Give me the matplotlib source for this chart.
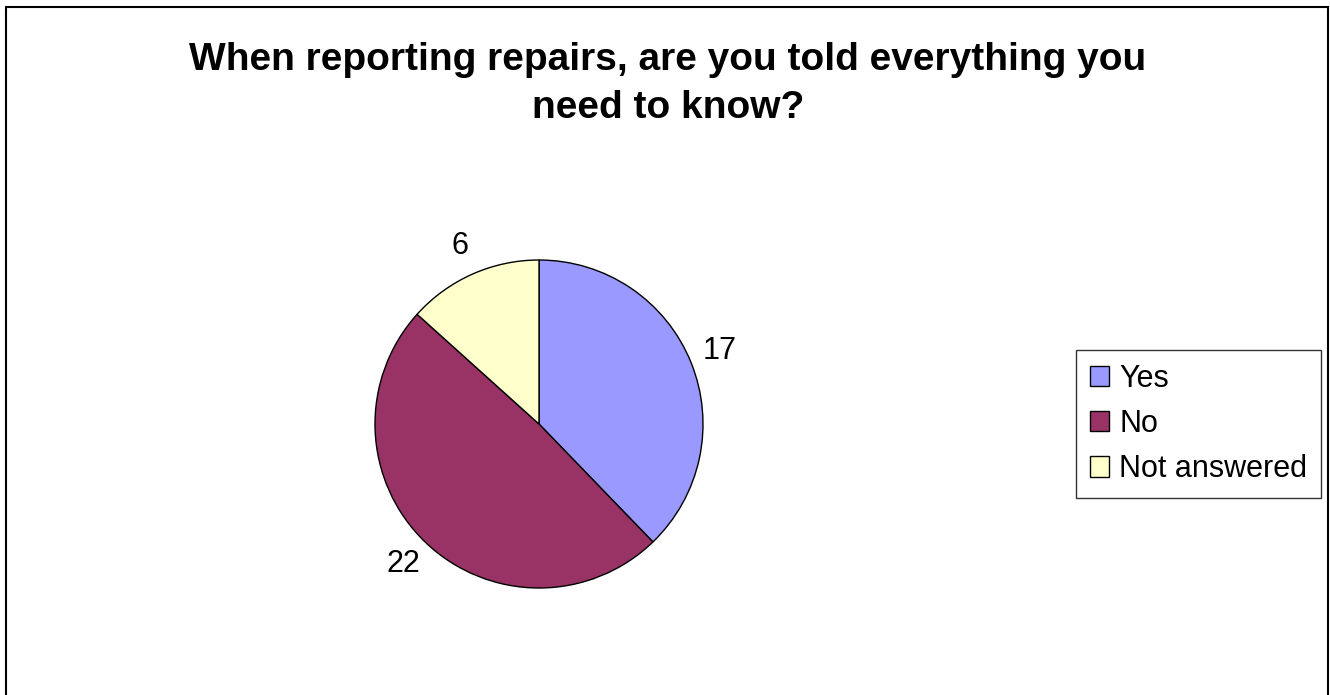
import numpy as np
import matplotlib.pyplot as plt
from matplotlib.patches import Rectangle

plt.rcParams['font.family'] = ['Liberation Sans', 'DejaVu Sans']

labels = ["Yes", "No", "Not answered"]
counts = [17, 22, 6]
colors = ["#9999FF", "#993366", "#FFFFCC"]
title = "When reporting repairs, are you told everything you\nneed to know?"

W, H = 1330, 695
fig = plt.figure(figsize=(W / 100, H / 100), dpi=100)

# outer chart frame
fig.patches.append(Rectangle((6 / W, -0.02), 1322 / W, 1 - 7 / H + 0.02,
                             transform=fig.transFigure, fill=False,
                             edgecolor="black", linewidth=1.5))

fig.text(668 / W, 1 - 84 / H, title, ha="center", va="center",
         fontsize=28, fontweight="bold", linespacing=1.4)

# pie axes: centre and radius in pixels
cx, cy, r = 539, 424, 164
ax = fig.add_axes([(cx - r) / W, (H - cy - r) / H, 2 * r / W, 2 * r / H])
wedges, _ = ax.pie(counts, colors=colors, startangle=90, counterclock=False,
                   wedgeprops=dict(edgecolor="black", linewidth=1))
ax.set_xlim(-1, 1)
ax.set_ylim(-1, 1)
ax.set_aspect("equal")
ax.axis("off")

for w, n in zip(wedges, counts):
    mid = np.deg2rad((w.theta1 + w.theta2) / 2)
    ax.text(1.19 * np.cos(mid), 1.19 * np.sin(mid), str(n),
            ha="center", va="center", fontsize=22, clip_on=False)

leg = fig.legend(wedges, labels, loc="upper left",
                 bbox_to_anchor=(1076 / W, 1 - 350 / H),
                 fontsize=22, frameon=True, fancybox=False,
                 handlelength=0.64, handleheight=0.64, handletextpad=0.32,
                 labelspacing=0.5, borderpad=0.45, borderaxespad=0)
leg.get_frame().set_edgecolor("black")
leg.get_frame().set_linewidth(1)

fig.savefig("out.png", dpi=100)
